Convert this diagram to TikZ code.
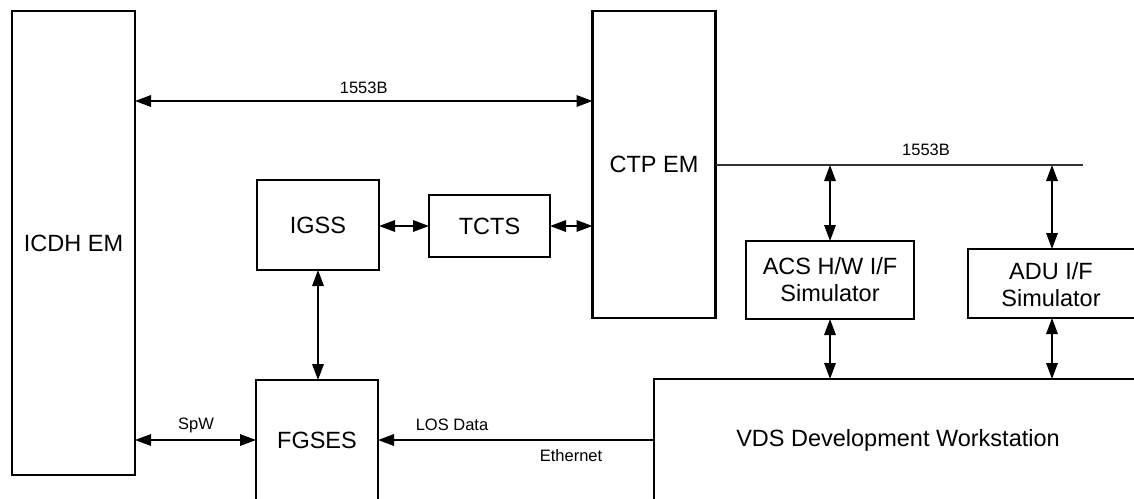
\documentclass[tikz,border=0pt]{standalone}
\usepackage{fontspec}
\setmainfont{Liberation Sans}
\usetikzlibrary{arrows.meta,positioning}
\begin{document}
\begin{tikzpicture}[x=1pt,y=-1pt,
  box/.style={draw,line width=2.8pt,inner sep=0pt,outer sep=0pt,
    font=\fontsize{23.5}{27}\selectfont,align=center},
  big/.style={font=\fontsize{23.5}{27}\selectfont,inner sep=0pt,align=center},
  small/.style={font=\fontsize{16.5}{19}\selectfont,inner sep=0pt},
  conn/.style={line width=1.6pt,{Triangle[length=16pt,width=11.5pt]}-{Triangle[length=16pt,width=11.5pt]}},
  oneway/.style={line width=1.6pt,-{Triangle[length=16pt,width=11.5pt]}},
  bus/.style={line width=1.6pt,draw=black!80}]
\useasboundingbox (0,0) rectangle (1134,498);
\clip (0,0) rectangle (1134,498);
% boxes
\node[box,minimum width=123pt,minimum height=464pt] (icdh) at (73.5,243) {ICDH EM};
\node[box,minimum width=123pt,minimum height=307pt] (ctp) at (654,164.5) {CTP EM};
\node[box,minimum width=122pt,minimum height=90pt] (igss) at (318,225) {IGSS};
\node[box,minimum width=121pt,minimum height=62pt] (tcts) at (489.5,226) {TCTS};
\node[box,minimum width=122pt,minimum height=150pt] (fgses) at (317,455) {};
\node[big] (fgsestxt) at (317,440) {FGSES};
\node[box,minimum width=560pt,minimum height=180pt] (vds) at (934,469) {};
\node[big] (vdstxt) at (898,440) {VDS Development Workstation};
\node[box,minimum width=168pt,minimum height=78pt] (acs) at (830,280) {ACS H/W I/F\\Simulator};
\node[box,minimum width=172pt,minimum height=69pt] (adu) at (1054,283.5) {};
\node[big] (adutxt) at (1051,285) {ADU I/F\\Simulator};
% coordinates
\coordinate (ytop) at (0,101);
\coordinate (busL) at (ctp.east |- 0,165);
\coordinate (busR) at (1083,165);
\coordinate (tap1) at (acs.north |- busL);
\coordinate (tap2) at (1052,165);
% connectors
\draw[conn] (icdh.east |- ytop) -- node[small,above=7pt] (lbltop) {1553B} (ctp.west |- ytop);
\draw[bus] (busL) -- (busR);
\node[small] (lblbus) at (926,150) {1553B};
\draw[conn] (tap1) -- (acs.north);
\draw[conn] (tap2) -- (tap2 |- adu.north);
\draw[conn] (acs.south) -- (acs.south |- vds.north);
\draw[conn] (tap2 |- adu.south) -- (tap2 |- vds.north);
\draw[conn] (igss.east |- tcts) -- (tcts.west);
\draw[conn] (tcts.east) -- (ctp.west |- tcts);
\draw[conn] (igss.south) -- (igss.south |- fgses.north);
\draw[conn] (icdh.east |- fgsestxt) -- (fgses.west |- fgsestxt);
\node[small] (lblspw) at (196,425) {SpW};
\draw[oneway] (vds.west |- fgsestxt) -- (fgses.east |- fgsestxt);
\node[small] (lbllos) at (452,425) {LOS Data};
\node[small] (lbleth) at (571,456) {Ethernet};
\end{tikzpicture}
\end{document}
